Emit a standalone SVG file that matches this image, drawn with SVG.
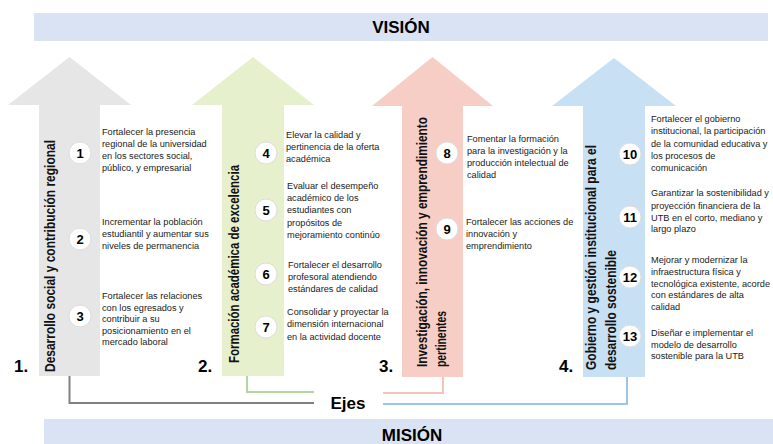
<svg xmlns="http://www.w3.org/2000/svg" width="773" height="444" viewBox="0 0 773 444">
<style>
.ban{fill:#dae3f3}
.bt{font-family:"Liberation Sans",Arial,sans-serif;font-weight:bold;font-size:17px;fill:#000;text-anchor:middle}
.ttl{font-family:"Liberation Sans",Arial,sans-serif;font-weight:bold;font-size:14px;fill:#111}
.num{font-family:"Liberation Sans",Arial,sans-serif;font-weight:bold;font-size:17px;fill:#000}
.ct{font-family:"Liberation Sans",Arial,sans-serif;font-weight:bold;font-size:13px;fill:#000;text-anchor:middle}
.tx{font-family:"Liberation Sans",Arial,sans-serif;font-size:9.2px;fill:#1a1a1a}
.cir{fill:#fff;stroke:#dcdcdc;stroke-width:1}
.con{fill:none;stroke-width:2}
</style>

<g id="vision">
<rect class="ban" x="34" y="13" width="734" height="28"/>
<text class="bt" x="401" y="33">VISIÓN</text>
</g>

<g id="mision">
<rect class="ban" x="44" y="419" width="729" height="25"/>
<text class="bt" x="412" y="441">MISIÓN</text>
</g>

<g id="connectors">
<polyline class="con" stroke="#808080" points="69.5,376 69.5,403 314,403"/>
<polyline class="con" stroke="#b4d89b" points="247,376 247,392 314,392"/>
<polyline class="con" stroke="#f6c3b8" points="443,377 443,393 383,393"/>
<polyline class="con" stroke="#9dc3e6" points="627,377 627,404 383,404"/>
</g>

<g id="ejes">
<text class="bt" x="348" y="409">Ejes</text>
</g>

<g id="eje1">
<polygon fill="#e7e6e6" points="69.5,57 131,105 100,105 100,376 39,376 39,105 8,105"/>
<text class="ttl" transform="translate(55,372) rotate(-90)" textLength="232" lengthAdjust="spacingAndGlyphs">Desarrollo social y contribución regional</text>
<text class="num" x="14" y="372">1.</text>
</g>

<g id="eje2">
<polygon fill="#e7f0cd" points="253,57 314,105 284,105 284,376 222,376 222,105 192,105"/>
<text class="ttl" transform="translate(239,363) rotate(-90)" textLength="198" lengthAdjust="spacingAndGlyphs">Formación académica de excelencia</text>
<text class="num" x="198" y="372">2.</text>
</g>

<g id="eje3">
<polygon fill="#f7cec5" points="432.5,57 493,106 463,106 463,377 402,377 402,106 372,106"/>
<text class="ttl" transform="translate(427,367) rotate(-90)" textLength="250" lengthAdjust="spacingAndGlyphs">Investigación, innovación y emprendimiento</text>
<text class="ttl" transform="translate(446,367) rotate(-90)" textLength="56" lengthAdjust="spacingAndGlyphs">pertinentes</text>
<text class="num" x="379" y="372">3.</text>
</g>

<g id="eje4">
<polygon fill="#c8e0f4" points="614,58 676,106 645,106 645,377 583,377 583,106 552,106"/>
<text class="ttl" transform="translate(596,370) rotate(-90)" textLength="225" lengthAdjust="spacingAndGlyphs">Gobierno y gestión institucional para el</text>
<text class="ttl" transform="translate(616,370) rotate(-90)" textLength="120" lengthAdjust="spacingAndGlyphs">desarrollo sostenible</text>
<text class="num" x="559" y="372">4.</text>
</g>

<g id="obj1">
<circle class="cir" cx="80" cy="153" r="11"/><text class="ct" x="80" y="157.5">1</text>
<text class="tx"><tspan x="102" y="135">Fortalecer la presencia</tspan><tspan x="102" y="147">regional de la universidad</tspan><tspan x="102" y="159">en los sectores social,</tspan><tspan x="102" y="171">público, y empresarial</tspan></text>
</g>
<g id="obj2">
<circle class="cir" cx="80" cy="239" r="11"/><text class="ct" x="80" y="243.5">2</text>
<text class="tx"><tspan x="102" y="225">Incrementar la población</tspan><tspan x="102" y="237">estudiantil y aumentar sus</tspan><tspan x="102" y="249">niveles de permanencia</tspan></text>
</g>
<g id="obj3">
<circle class="cir" cx="80" cy="316" r="11"/><text class="ct" x="80" y="320.5">3</text>
<text class="tx"><tspan x="102" y="299">Fortalecer las relaciones</tspan><tspan x="102" y="310.5">con los egresados y</tspan><tspan x="102" y="322">contribuir a su</tspan><tspan x="102" y="333.5">posicionamiento en el</tspan><tspan x="102" y="345">mercado laboral</tspan></text>
</g>

<g id="obj4">
<circle class="cir" cx="266" cy="153" r="11"/><text class="ct" x="266" y="157.5">4</text>
<text class="tx"><tspan x="286" y="138">Elevar la calidad y</tspan><tspan x="286" y="150">pertinencia de la oferta</tspan><tspan x="286" y="162">académica</tspan></text>
</g>
<g id="obj5">
<circle class="cir" cx="266" cy="210" r="11"/><text class="ct" x="266" y="214.5">5</text>
<text class="tx"><tspan x="287" y="189">Evaluar el desempeño</tspan><tspan x="287" y="201">académico de los</tspan><tspan x="287" y="213">estudiantes con</tspan><tspan x="287" y="225.5">propósitos de</tspan><tspan x="287" y="238">mejoramiento continúo</tspan></text>
</g>
<g id="obj6">
<circle class="cir" cx="266" cy="274" r="11"/><text class="ct" x="266" y="278.5">6</text>
<text class="tx"><tspan x="288" y="268">Fortalecer el desarrollo</tspan><tspan x="288" y="280">profesoral atendiendo</tspan><tspan x="288" y="292">estándares de calidad</tspan></text>
</g>
<g id="obj7">
<circle class="cir" cx="266" cy="327" r="11"/><text class="ct" x="266" y="331.5">7</text>
<text class="tx"><tspan x="287" y="315">Consolidar y proyectar la</tspan><tspan x="287" y="327">dimensión internacional</tspan><tspan x="287" y="339.5">en la actividad docente</tspan></text>
</g>

<g id="obj8">
<circle class="cir" cx="447" cy="153" r="11"/><text class="ct" x="447" y="157.5">8</text>
<text class="tx"><tspan x="467" y="142">Fomentar la formación</tspan><tspan x="467" y="154">para la investigación y la</tspan><tspan x="467" y="166">producción intelectual de</tspan><tspan x="467" y="178">calidad</tspan></text>
</g>
<g id="obj9">
<circle class="cir" cx="447" cy="229" r="11"/><text class="ct" x="447" y="233.5">9</text>
<text class="tx"><tspan x="466" y="225">Fortalecer las acciones de</tspan><tspan x="466" y="237">innovación y</tspan><tspan x="466" y="249">emprendimiento</tspan></text>
</g>

<g id="obj10">
<circle class="cir" cx="630" cy="154" r="11"/><text class="ct" x="630" y="158.5">10</text>
<text class="tx"><tspan x="651" y="122">Fortalecer el gobierno</tspan><tspan x="651" y="134">institucional, la participación</tspan><tspan x="651" y="146.5">de la comunidad educativa y</tspan><tspan x="651" y="159">los procesos de</tspan><tspan x="651" y="171">comunicación</tspan></text>
</g>
<g id="obj11">
<circle class="cir" cx="630" cy="217" r="11"/><text class="ct" x="630" y="221.5">11</text>
<text class="tx"><tspan x="651" y="196">Garantizar la sostenibilidad y</tspan><tspan x="651" y="208.5">proyección financiera de la</tspan><tspan x="651" y="220.5">UTB en el corto, mediano y</tspan><tspan x="651" y="232">largo plazo</tspan></text>
</g>
<g id="obj12">
<circle class="cir" cx="630" cy="277" r="11"/><text class="ct" x="630" y="281.5">12</text>
<text class="tx"><tspan x="651" y="263">Mejorar y modernizar la</tspan><tspan x="651" y="275">infraestructura física y</tspan><tspan x="651" y="286.5">tecnológica existente, acorde</tspan><tspan x="651" y="298">con estándares de alta</tspan><tspan x="651" y="310">calidad</tspan></text>
</g>
<g id="obj13">
<circle class="cir" cx="630" cy="336" r="11"/><text class="ct" x="630" y="340.5">13</text>
<text class="tx"><tspan x="651" y="336">Diseñar e implementar el</tspan><tspan x="651" y="347.5">modelo de desarrollo</tspan><tspan x="651" y="359">sostenible para la UTB</tspan></text>
</g>
</svg>
